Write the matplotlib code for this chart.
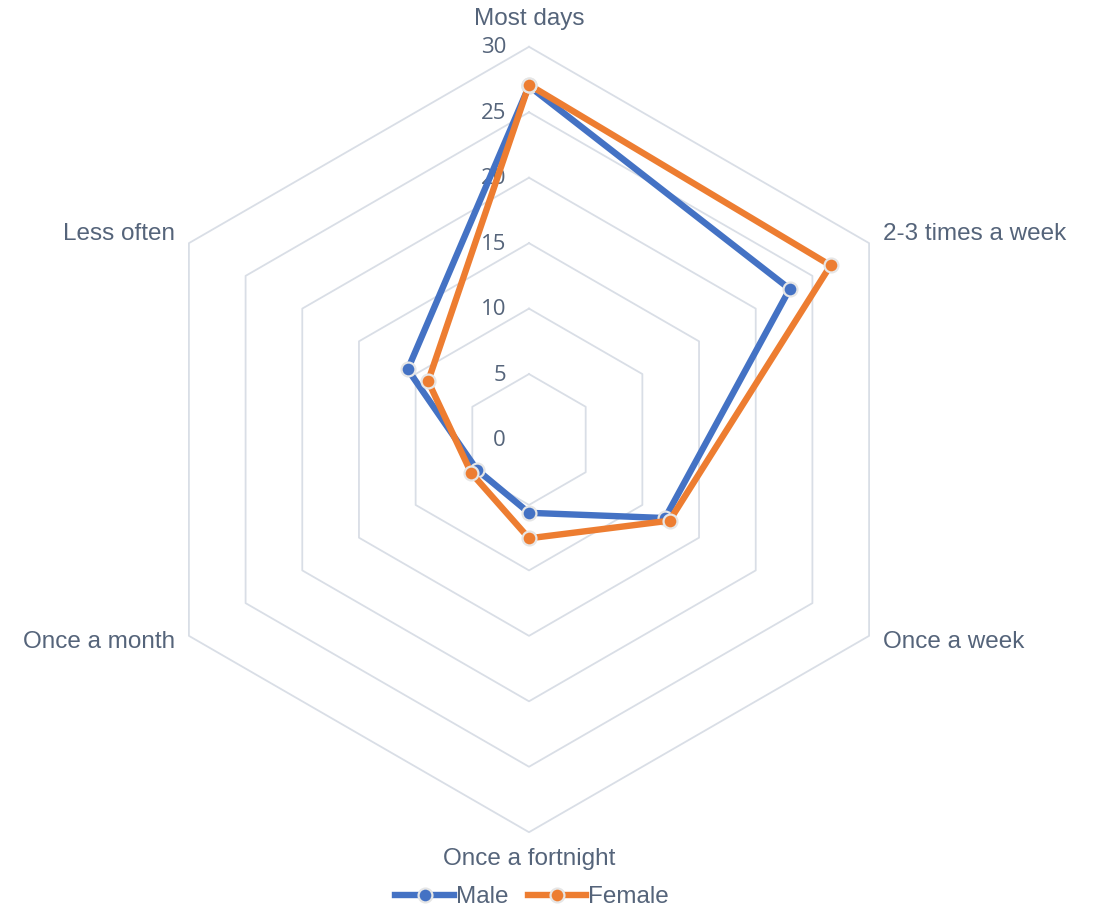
import numpy as np
import matplotlib
matplotlib.use("Agg")
import matplotlib.pyplot as plt
from matplotlib.lines import Line2D
from matplotlib.transforms import offset_copy

categories = ["Most days", "2-3 times a week", "Once a week",
              "Once a fortnight", "Once a month", "Less often"]
male = [27.0, 23.0, 12.0, 5.6, 4.6, 10.7]
female = [27.1, 26.6, 12.4, 7.55, 5.1, 8.9]
ticks = [0, 5, 10, 15, 20, 25, 30]

BLUE = "#4472C4"
ORANGE = "#ED7D31"
GRID = "#D9DEE6"
TEXT = "#55647A"

W, H = 1097, 910
fig = plt.figure(figsize=(W / 100, H / 100), dpi=100)

cx, cy, R = 529, 439.5, 392.7
ax = fig.add_axes([(cx - R) / W, (H - cy - R) / H, 2 * R / W, 2 * R / H],
                  projection="polar")
ax.set_theta_offset(np.pi / 2)
ax.set_theta_direction(-1)
ax.set_ylim(0, 30)
ax.grid(False)
ax.spines["polar"].set_visible(False)
ax.set_xticks([])
ax.set_yticks([])
ax.patch.set_alpha(0)

n = len(categories)
theta = np.arange(n) * 2 * np.pi / n
theta_c = np.append(theta, theta[0])

# hexagonal grid rings
for t in ticks:
    ax.plot(theta_c, [t] * (n + 1), color=GRID, lw=1.3, zorder=1,
            clip_on=False)

# value labels up the first spoke
tick_tr = offset_copy(ax.transData, fig=fig, x=-23, y=-1, units="dots")
for t in ticks:
    ax.text(0, t, str(t), transform=tick_tr, ha="right", va="center",
            fontsize=16, color=TEXT, family="Open Sans")

# category labels
offsets = [(0, 28, "center"), (14, 9, "left"), (14, -6, "left"),
           (0, -27, "center"), (-14, -6, "right"), (-14, 9, "right")]
for ang, lab, (dx, dy, ha) in zip(theta, categories, offsets):
    tr = offset_copy(ax.transData, fig=fig, x=dx, y=dy, units="dots")
    ax.text(ang, 30, lab, transform=tr, ha=ha, va="center",
            fontsize=17.5, color=TEXT, family="Liberation Sans")

style = dict(lw=4.6, marker="o", markersize=10, markeredgecolor="#E6E6E6",
             markeredgewidth=1.6, solid_joinstyle="miter", clip_on=False)
ax.plot(theta_c, male + male[:1], color=BLUE, markerfacecolor=BLUE,
        zorder=3, **style)
ax.plot(theta_c, female + female[:1], color=ORANGE, markerfacecolor=ORANGE,
        zorder=4, **style)

handles = [Line2D([], [], color=BLUE, markerfacecolor=BLUE, **style),
           Line2D([], [], color=ORANGE, markerfacecolor=ORANGE, **style)]
leg = fig.legend(handles, ["Male", "Female"], loc="center",
                 bbox_to_anchor=(532 / W, 1 - 897 / H), ncol=2, frameon=False,
                 handlelength=2.4, handletextpad=0.08, columnspacing=0.8,
                 prop={"family": "Liberation Sans", "size": 17.5})
for txt in leg.get_texts():
    txt.set_color(TEXT)

fig.savefig("out.png", dpi=100, facecolor="white")
